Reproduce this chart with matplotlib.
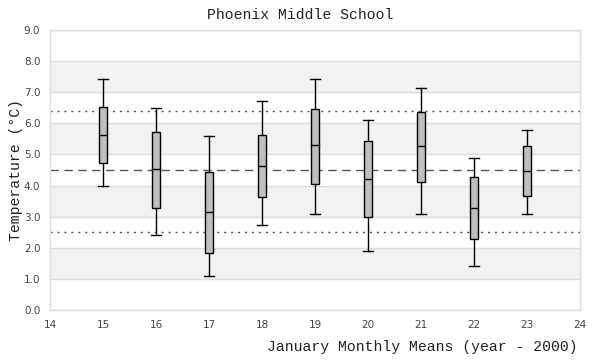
import matplotlib
matplotlib.use("Agg")
import matplotlib.pyplot as plt
from matplotlib.patches import Rectangle

years = [15, 16, 17, 18, 19, 20, 21, 22, 23]
whisker_low = [4.0, 2.42, 1.10, 2.72, 3.10, 1.90, 3.10, 1.41, 3.10]
q1 = [4.74, 3.29, 1.84, 3.64, 4.06, 3.00, 4.12, 2.29, 3.68]
median = [5.64, 4.53, 3.16, 4.64, 5.29, 4.22, 5.26, 3.29, 4.48]
q3 = [6.54, 5.71, 4.44, 5.63, 6.47, 5.42, 6.35, 4.29, 5.28]
whisker_high = [7.41, 6.50, 5.60, 6.71, 7.41, 6.12, 7.12, 4.89, 5.79]
mean_line = 4.5
upper_line = 6.4
lower_line = 2.5

fig = plt.figure(figsize=(6, 3.6), dpi=100)
ax = fig.add_axes([50/600, 1-310/360, 530/600, 280/360])
ax.set_xlim(14, 24)
ax.set_ylim(0, 9)

# alternating bands
for i in range(9):
    if i % 2 == 1:
        ax.axhspan(i, i + 1, color="#f2f2f2", zorder=0, lw=0)
for i in range(10):
    ax.axhline(i, color="#dddddd", lw=1, zorder=1)

ax.axhline(upper_line, color="#555555", lw=1, ls=(0, (1.5, 3.5)), zorder=2)
ax.axhline(lower_line, color="#555555", lw=1, ls=(0, (1.5, 3.5)), zorder=2)
ax.axhline(mean_line, color="#555555", lw=1, ls=(0, (6, 4)), zorder=2)

bw = 0.16
cw = 0.2
for x, lo, a, m, b, hi in zip(years, whisker_low, q1, median, q3, whisker_high):
    ax.plot([x, x], [lo, a], color="black", lw=1, zorder=3)
    ax.plot([x, x], [b, hi], color="black", lw=1, zorder=3)
    ax.plot([x - cw/2, x + cw/2], [lo, lo], color="black", lw=1, zorder=3)
    ax.plot([x - cw/2, x + cw/2], [hi, hi], color="black", lw=1, zorder=3)
    ax.add_patch(Rectangle((x - bw/2, a), bw, b - a, facecolor="#bfbfbf",
                           edgecolor="black", lw=1, zorder=4))
    ax.plot([x - bw/2, x + bw/2], [m, m], color="black", lw=1, zorder=5)

ax.set_xticks(range(14, 25))
ax.set_yticks(range(0, 10))
ax.set_yticklabels([f"{v:.1f}" for v in range(0, 10)])
ax.tick_params(length=0, labelsize=7.5, colors="#444444", pad=7)
for s in ax.spines.values():
    s.set_color("#dddddd")
    s.set_linewidth(1)

mono = "Liberation Mono"
fig.text(0.5, 1-15/360, "Phoenix Middle School", ha="center", va="center",
         family=mono, fontsize=10.6, color="#222222")
fig.text(16/600, 1-170/360, "Temperature (°C)", ha="center", va="center",
         rotation=90, family=mono, fontsize=10.6, color="#222222")
fig.text(578/600, 1-347/360, "January Monthly Means (year - 2000)", ha="right",
         va="center", family=mono, fontsize=10.6, color="#222222")

fig.savefig("out.png", dpi=100)
